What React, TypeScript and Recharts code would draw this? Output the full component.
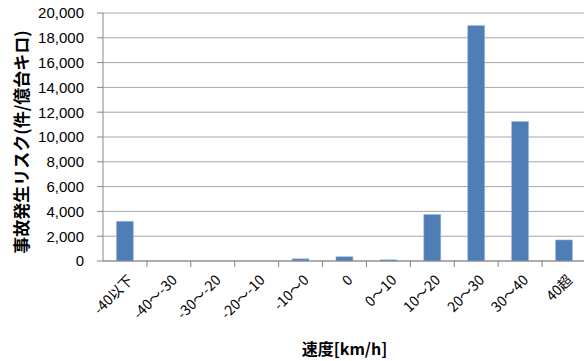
import React from 'react';
import { BarChart, Bar, XAxis, YAxis, CartesianGrid, Label } from 'recharts';

const categories = ['-40以下', '-40～-30', '-30～-20', '-20～-10', '-10～0', '0', '0～10', '10～20', '20～30', '30～40', '40超'];
const riskValues = [3200, 0, 0, 0, 180, 350, 100, 3750, 19000, 11250, 1700];
const yTicks = [0, 2000, 4000, 6000, 8000, 10000, 12000, 14000, 16000, 18000, 20000];

const data = categories.map((c, i) => ({ name: c, value: riskValues[i] }));

const CHART_W = 586;
const CHART_H = 361;
const MARGIN = { top: 13, right: 0, bottom: 0, left: 0 };
const Y_W = 103;
const X_H = 100;
const PLOT_BOTTOM = CHART_H - MARGIN.bottom - X_H;
const BAND = (CHART_W - MARGIN.left - MARGIN.right - Y_W) / categories.length;
const FONT = '"Liberation Sans", Arial, sans-serif';
const JP = '"Noto Sans CJK JP", "Liberation Sans", sans-serif';

const XTick = (props: any) => {
  const { x, payload } = props;
  const bx = x + BAND / 2;
  const tx = x;
  const ty = PLOT_BOTTOM + 11;
  return (
    <g>
      <line x1={bx} y1={PLOT_BOTTOM} x2={bx} y2={PLOT_BOTTOM + 6} stroke="#868686" strokeWidth={1} />
      <text
        x={tx}
        y={ty}
        transform={`rotate(-45 ${tx} ${ty})`}
        textAnchor="end"
        dominantBaseline="hanging"
        fontSize={14}
        fill="#000"
        fontFamily={JP}
      >
        {payload.value}
      </text>
    </g>
  );
};

export default function App() {
  return (
    <div style={{ position: 'absolute', left: 0, top: 0, width: 584, height: 361, overflow: 'hidden', background: '#fff' }}>
      <BarChart width={CHART_W} height={CHART_H} data={data} margin={MARGIN} barCategoryGap="30.5%">
        <CartesianGrid horizontal={true} vertical={false} stroke="#A6A6A6" strokeWidth={1} />
        <XAxis
          dataKey="name"
          height={X_H}
          interval={0}
          tickLine={false}
          axisLine={{ stroke: '#868686' }}
          tick={<XTick />}
        >
          <Label
            content={(p: any) => {
              const vb = p.viewBox;
              return (
                <text
                  x={vb.x + vb.width / 2}
                  y={CHART_H - 6}
                  textAnchor="middle"
                  fontSize={16}
                  fontWeight="bold"
                  fontFamily={JP}
                  fill="#000"
                >
                  速度[km/h]
                </text>
              );
            }}
          />
        </XAxis>
        <YAxis
          width={Y_W}
          domain={[0, 20000]}
          ticks={yTicks}
          interval={0}
          tickSize={6}
          tickMargin={13}
          tickLine={{ stroke: '#868686' }}
          axisLine={{ stroke: '#868686' }}
          tick={{ fontSize: 15, fill: '#000', fontFamily: FONT }}
          tickFormatter={(v: number) => v.toLocaleString('en-US')}
        >
          <Label
            content={(p: any) => {
              const vb = p.viewBox;
              const cy = vb.y + vb.height / 2 + 5;
              const cx = 20;
              return (
                <text
                  x={cx}
                  y={cy}
                  transform={`rotate(-90 ${cx} ${cy})`}
                  textAnchor="middle"
                  dominantBaseline="central"
                  fontSize={17}
                  fontWeight="bold"
                  fontFamily={JP}
                  fill="#000"
                >
                  事故発生リスク(件/億台キロ)
                </text>
              );
            }}
          />
        </YAxis>
        <Bar dataKey="value" fill="#4F7EB7" stroke="#A7BDDB" strokeWidth={0.5} isAnimationActive={false} />
      </BarChart>
    </div>
  );
}
